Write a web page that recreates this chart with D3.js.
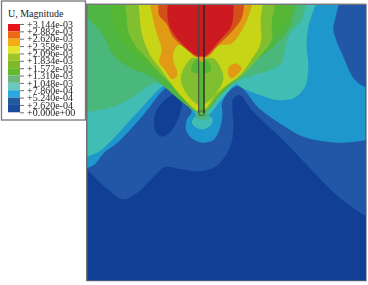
<!DOCTYPE html>
<html>
<head>
<meta charset="utf-8">
<script src="https://cdn.jsdelivr.net/npm/d3@7"></script>
<style>
  html, body { margin: 0; padding: 0; background: #fff; }
  svg { display: block; filter: blur(0.35px); }
  text { font-family: "Liberation Serif", serif; }
</style>
</head>
<body>
<svg id="chart" width="368" height="285"></svg>
<script>
// legend
const legendTitle = "U, Magnitude";
const legendLabels = ["+3.144e-03", "+2.882e-03", "+2.620e-03", "+2.358e-03", "+2.096e-03", "+1.834e-03", "+1.572e-03",
  "+1.310e-03", "+1.048e-03", "+7.860e-04", "+5.240e-04", "+2.620e-04", "+0.000e+00"];
const legendColors = ["#e8141c", "#ec6a14", "#f5ab12", "#e4e52c", "#9ec626", "#7fb92a", "#66b82c", "#6cb87c",
  "#6ac8c0", "#2aa9de", "#24589f", "#1c4a9c"];

// contour fill colours
const cDarkBlue = "#123f96";
const cBlue = "#2256a6";
const cLightBlue = "#1e98cc";
const cTeal = "#41bdb3";
const cSeaGreen = "#4ab87a";
const cGreen = "#4fb543";
const cGreen2 = "#56b734";
const cLimeGreen = "#7fbf30";
const cYellow = "#c8d416";
const cOrange = "#e09a15";
const cOrangeRed = "#d4501a";
const cRed = "#cc1a20";

// contour boundaries, model units (open lines, closed along the frame)
const blueBand = [[0,502],[60,561],[115,598],[160,576],[210,526],[240,501],[290,508],[340,514],[390,501],[425,461],[440,426],[445,380],[445,296],[465,285],[500,330],[600,426],[680,510],[760,590],[843,648],[860,655]];
const lightBlueBand = [[0,506],[25,496],[60,456],[100,426],[175,345],[250,262],[280,290],[310,318],[320,335],[305,360],[303,390],[320,415],[350,428],[385,420],[405,385],[412,345],[412,305],[458,258],[525,328],[600,380],[660,412],[760,428],[860,418]];
const blueCorner = [[765,0],[750,60],[745,90],[775,170],[810,240],[843,262],[860,262]];
const tealBand = [[0,472],[40,456],[75,426],[150,345],[235,258],[250,255],[290,295],[325,330],[335,345],[370,345],[400,310],[455,252],[465,260],[525,285],[575,300],[625,295],[660,260],[670,200],[665,140],[670,80],[698,0]];
const seaGreenBand = [[0,337],[70,325],[130,300],[210,250],[245,262],[290,300],[330,335],[365,335],[400,295],[440,255],[465,240],[505,225],[555,210],[590,190],[600,150],[615,100],[650,60],[665,0]];
const greenBand = [[0,45],[30,75],[60,115],[75,150],[100,180],[150,210],[200,230],[240,262],[290,305],[332,332],[365,332],[395,295],[435,255],[465,230],[515,180],[565,140],[615,80],[637,0]];
const green2Band = [[70,0],[80,50],[95,95],[120,135],[160,175],[215,220],[260,262],[300,310],[332,332],[365,332],[395,295],[465,225],[550,130],[600,70],[630,0]];
const limeBand = [[118,0],[125,50],[130,95],[150,135],[185,175],[225,220],[270,265],[310,312],[335,332],[362,330],[395,290],[430,255],[465,232],[520,175],[560,120],[560,70],[573,0]];
const yellowBand = [[160,0],[165,60],[170,100],[195,165],[225,205],[265,260],[310,310],[338,332],[362,325],[390,285],[425,255],[465,225],[495,185],[527,130],[527,60],[535,0]];
const orangeBand = [[192,0],[205,60],[215,100],[230,150],[222,185],[240,210],[262,238],[277,225],[265,180],[268,150],[280,135],[300,140],[330,170],[370,170],[400,138],[440,130],[468,95],[490,50],[505,0]];
const orangeRedBand = [[222,0],[222,45],[245,72],[262,108],[300,145],[338,172],[360,172],[405,130],[445,90],[470,55],[478,0]];
const redBand = [[250,0],[248,60],[265,100],[300,140],[338,168],[360,168],[400,125],[440,75],[445,0]];

// closed patches
const darkBlob = [[265,285],[290,300],[285,340],[265,385],[235,410],[212,395],[208,350],[230,310]];
const tealBulb = [[325,355],[322,372],[350,388],[378,375],[382,355],[350,345]];
const tipPatch = [[332,340],[335,355],[350,360],[367,355],[372,340]];
const orangePatch = [[430,205],[450,190],[470,205],[440,235],[430,225]];
const limeKite = [[320,175],[287,240],[335,312],[360,312],[415,237],[385,175],[350,178]];
const greenBlob = [[320,215],[375,215],[378,200],[360,178],[335,178],[320,200]];

const svg = d3.select("#chart");

const x = d3.scaleLinear().domain([5, 843]).range([86.7, 366]);
const y = d3.scaleLinear().domain([13, 842]).range([4.3, 280.7]);

svg.append("clipPath").attr("id", "plot-clip")
  .append("rect")
  .attr("x", x(5)).attr("y", y(13))
  .attr("width", x(843) - x(5)).attr("height", y(842) - y(13));

const plot = svg.append("g").attr("clip-path", "url(#plot-clip)");

plot.append("rect")
  .attr("x", x(5)).attr("y", y(13))
  .attr("width", x(843) - x(5)).attr("height", y(842) - y(13))
  .attr("fill", cDarkBlue);

const boundary = d3.line().x(d => x(d[0])).y(d => y(d[1])).curve(d3.curveCatmullRom.alpha(0.5));
const patch = d3.line().x(d => x(d[0])).y(d => y(d[1])).curve(d3.curveCatmullRomClosed.alpha(0.5));

// open boundary plus the frame corners it closes through
function bandPath(points, corners) {
  return boundary(points) + corners.map(c => "L" + x(c[0]) + "," + y(c[1])).join("") + "Z";
}

const topRight = [[860, 0]];
const topLeft = [[0, 0]];
const topBoth = [[860, 0], [0, 0]];

const layers = [
  [bandPath(blueBand, topBoth), cBlue],
  [patch(darkBlob), cDarkBlue],
  [bandPath(lightBlueBand, topBoth), cLightBlue],
  [bandPath(blueCorner, topRight), cBlue],
  [bandPath(tealBand, topLeft), cTeal],
  [patch(tealBulb), cTeal],
  [patch(tipPatch), cSeaGreen],
  [bandPath(seaGreenBand, topLeft), cSeaGreen],
  [bandPath(greenBand, topLeft), cGreen],
  [bandPath(green2Band, []), cGreen2],
  [bandPath(limeBand, []), cLimeGreen],
  [bandPath(yellowBand, []), cYellow],
  [bandPath(orangeBand, []), cOrange],
  [patch(orangePatch), cOrange],
  [patch(limeKite), cLimeGreen],
  [patch(greenBlob), cGreen2],
  [bandPath(orangeRedBand, []), cOrangeRed],
  [bandPath(redBand, []), cRed]
];

plot.selectAll("path.band")
  .data(layers)
  .join("path")
  .attr("class", "band")
  .attr("d", d => d[0])
  .attr("fill", d => d[1]);

// the inserted plate
plot.append("rect")
  .attr("x", x(342)).attr("y", y(13))
  .attr("width", x(356) - x(342)).attr("height", y(170) - y(13))
  .attr("fill", cRed);
plot.append("rect")
  .attr("x", x(342)).attr("y", y(170))
  .attr("width", x(356) - x(342)).attr("height", y(185) - y(170))
  .attr("fill", cOrange);
plot.append("rect")
  .attr("x", x(342)).attr("y", y(185))
  .attr("width", x(356) - x(342)).attr("height", y(335) - y(185))
  .attr("fill", cGreen2);
plot.append("rect")
  .attr("x", x(342)).attr("y", y(333))
  .attr("width", x(357) - x(342)).attr("height", y(346) - y(333))
  .attr("fill", cGreen2).attr("stroke", "#555").attr("stroke-width", 0.8);
plot.append("line")
  .attr("x1", x(341)).attr("x2", x(341)).attr("y1", y(13)).attr("y2", y(340))
  .attr("stroke", "#444").attr("stroke-width", 1);
plot.append("line")
  .attr("x1", x(357)).attr("x2", x(357)).attr("y1", y(13)).attr("y2", y(340))
  .attr("stroke", "#222").attr("stroke-width", 1.3);

// frame
svg.append("rect")
  .attr("x", x(5)).attr("y", y(13))
  .attr("width", x(843) - x(5)).attr("height", y(842) - y(13))
  .attr("fill", "none").attr("stroke", "#3c4a6a").attr("stroke-width", 1);
svg.append("path")
  .attr("d", d3.line()([[x(5), y(842)], [x(5), y(13)], [x(843), y(13)]]))
  .attr("fill", "none").attr("stroke", "#777").attr("stroke-width", 1.2);

// legend box
svg.append("rect")
  .attr("x", 1.5).attr("y", 1).attr("width", 84).attr("height", 119)
  .attr("fill", "#fff").attr("stroke", "#777").attr("stroke-width", 1.3);

svg.append("text")
  .attr("x", 8).attr("y", 17)
  .attr("font-size", 10)
  .attr("fill", "#222")
  .text(legendTitle);

const legendY = d3.scalePoint().domain(legendLabels).range([24, 112.3]);
const swatchY = d3.scaleBand().domain(legendColors).range([24, 112.3]);

svg.selectAll("rect.swatch")
  .data(legendColors)
  .join("rect")
  .attr("class", "swatch")
  .attr("x", 8).attr("width", 12)
  .attr("y", d => swatchY(d)).attr("height", swatchY.bandwidth())
  .attr("fill", d => d);

const legendAxis = svg.append("g")
  .attr("transform", "translate(20,0)")
  .call(d3.axisRight(legendY).tickSize(4).tickPadding(3));

legendAxis.select(".domain").remove();
legendAxis.selectAll("line").attr("stroke", "#333").attr("stroke-width", 0.7);
legendAxis.selectAll("text")
  .attr("font-family", "Liberation Serif")
  .attr("font-size", 10)
  .attr("fill", "#222");
</script>
</body>
</html>
